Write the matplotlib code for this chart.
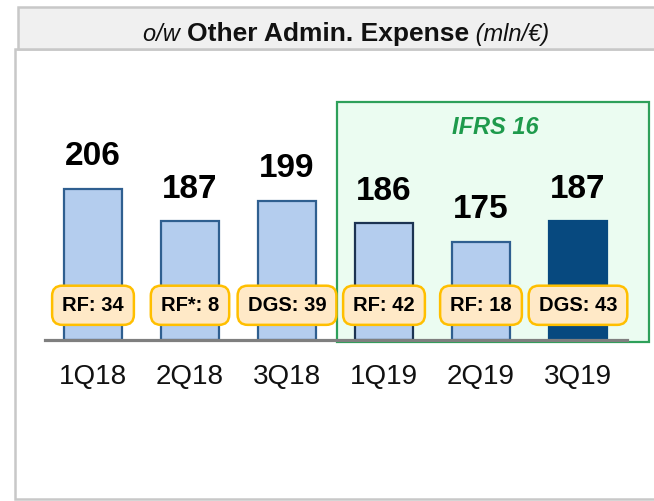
import matplotlib
matplotlib.use("Agg")
import matplotlib.pyplot as plt
from matplotlib.patches import Rectangle

plt.rcParams['font.family'] = ['Liberation Sans', 'DejaVu Sans']

quarters = ["1Q18", "2Q18", "3Q18", "1Q19", "2Q19", "3Q19"]
values = [206, 187, 199, 186, 175, 187]
box_labels = ["RF: 34", "RF*: 8", "DGS: 39", "RF: 42", "RF: 18", "DGS: 43"]
ifrs_label = "IFRS 16"

W, H = 654, 501
base = 117.7

light = "#B4CDEE"
edge = "#2F5F90"
dark = "#07497F"

fig = plt.figure(figsize=(W / 100, H / 100), dpi=100)
fig.patch.set_facecolor("white")


def px(x, y):
    # pixel coords (from top-left) -> figure fraction
    return x / W, 1 - y / H


# outer frames
x0, y0 = px(15, 499)
fig.patches.append(Rectangle((x0, y0), 1.0, (499 - 49) / H, transform=fig.transFigure,
                             fc="white", ec="#C8C8C8", lw=1.8, zorder=-3))
x0, y0 = px(18, 49)
fig.patches.append(Rectangle((x0, y0), 1.0, (49 - 7) / H, transform=fig.transFigure,
                             fc="#F0F0F0", ec="#C8C8C8", lw=1.8, zorder=-2))

ax = fig.add_axes([44.5 / W, 161 / H, 582 / W, 240 / H])
ax.patch.set_visible(False)
ax.set_xlim(-0.5, 5.5)
ax.set_ylim(base, base + 240 / 1.71)
for s in ax.spines.values():
    s.set_visible(False)
ax.set_yticks([])

# IFRS 16 highlight box
gx, gy = px(337, 342)
ax.add_patch(Rectangle((gx, gy), (649 - 337) / W, (342 - 102) / H, transform=fig.transFigure,
                       fc="#EBFCF1", ec="#2EA05A", lw=1.6, zorder=0.5, clip_on=False))
tx, ty = px(495, 128)
ax.text(tx, ty, ifrs_label, transform=fig.transFigure, ha="center", va="center",
        fontsize=17, fontweight="bold", fontstyle="italic", color="#1E9A4C")

xs = list(range(len(values)))
colors = [light] * 5 + [dark]
edges = [edge, edge, edge, "#1C3352", edge, dark]
ax.bar(xs, [v - base for v in values], bottom=base, width=0.59, color=colors,
       edgecolor=edges, linewidth=1.6, zorder=2)

ax.axhline(base, xmin=0, xmax=1, color="#7F7F7F", lw=2.3, zorder=3, clip_on=False)

for x, v in zip(xs, values):
    ax.annotate(str(v), xy=(x, v), xytext=(0, 12), textcoords="offset points",
                ha="center", va="bottom", fontsize=24, fontweight="bold", color="black")

for x, lab in zip(xs, box_labels):
    ax.annotate(lab, xy=(x, base), xytext=(0, 25), textcoords="offset points",
                ha="center", va="center", fontsize=14.5, fontweight="bold", color="black",
                zorder=4,
                bbox=dict(boxstyle="round,pad=0.5", fc="#FFE9C7", ec="#FFBF00", lw=1.8))

ax.set_xticks(xs)
ax.set_xticklabels(quarters, fontsize=20, color="#111111")
ax.tick_params(axis="x", length=0, pad=17)

# header title with mixed styles
hx, hy = px(346, 32)
parts = [("o/w ", "normal", "italic", 17),
         ("Other Admin. Expense", "bold", "normal", 19),
         (" (mln/€)", "normal", "italic", 17)]
texts = []
for s, w, st, fs in parts:
    texts.append(fig.text(0, hy, s, ha="left", va="center_baseline", fontweight=w,
                          fontstyle=st, fontsize=fs, color="#111111"))
fig.canvas.draw()
r = fig.canvas.get_renderer()
widths = [t.get_window_extent(r).width for t in texts]
cur = hx * W - sum(widths) / 2
for t, wd in zip(texts, widths):
    t.set_x(cur / W)
    cur += wd

fig.savefig("out.png", dpi=100)
